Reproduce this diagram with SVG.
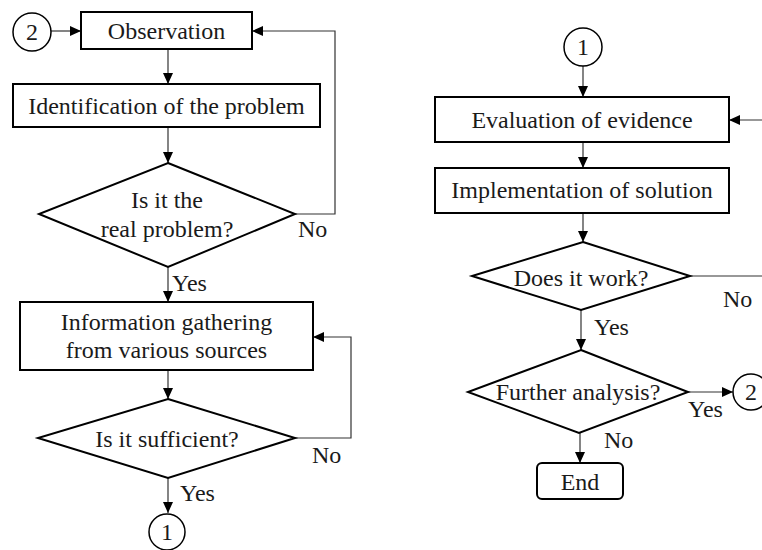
<svg xmlns="http://www.w3.org/2000/svg" width="762" height="550" viewBox="0 0 762 550">
<defs>
<marker id="arr" markerUnits="userSpaceOnUse" markerWidth="12" markerHeight="10" refX="11" refY="5" orient="auto">
<path d="M0,0 L11,5 L0,10 z" fill="#000"/>
</marker>
<style>
.box{fill:#fff;stroke:#000;stroke-width:2}
.conn{fill:none;stroke:#333;stroke-width:1.2}
.circ{fill:#fff;stroke:#000;stroke-width:1.5}
</style>
</defs>
<rect width="762" height="550" fill="#fff"/>
<g font-family="Liberation Serif, Times New Roman, serif" font-size="24" fill="#1a1a1a">
<g id="connectors">
<line class="conn" x1="51" y1="31" x2="81" y2="31" marker-end="url(#arr)"/>
<line class="conn" x1="168" y1="49" x2="168" y2="84" marker-end="url(#arr)"/>
<line class="conn" x1="168" y1="127" x2="168" y2="163" marker-end="url(#arr)"/>
<polyline class="conn" points="295,214 335,214 335,31 252,31" marker-end="url(#arr)"/>
<line class="conn" x1="168" y1="267" x2="168" y2="302" marker-end="url(#arr)"/>
<line class="conn" x1="168" y1="370" x2="168" y2="399" marker-end="url(#arr)"/>
<polyline class="conn" points="295,438 351,438 351,337 313,337" marker-end="url(#arr)"/>
<line class="conn" x1="168" y1="478" x2="168" y2="513" marker-end="url(#arr)"/>
<line class="conn" x1="583" y1="66" x2="583" y2="97" marker-end="url(#arr)"/>
<line class="conn" x1="583" y1="142" x2="583" y2="168" marker-end="url(#arr)"/>
<line class="conn" x1="583" y1="213" x2="583" y2="242" marker-end="url(#arr)"/>
<polyline class="conn" points="690,276 775,276 775,120 729,120" marker-end="url(#arr)"/>
<line class="conn" x1="581" y1="310" x2="581" y2="350" marker-end="url(#arr)"/>
<line class="conn" x1="688" y1="392" x2="733" y2="392" marker-end="url(#arr)"/>
<line class="conn" x1="580" y1="433" x2="580" y2="463" marker-end="url(#arr)"/>
<text x="298" y="237">No</text>
<text x="172" y="291">Yes</text>
<text x="312" y="463">No</text>
<text x="180" y="501">Yes</text>
<text x="723" y="307">No</text>
<text x="594" y="335">Yes</text>
<text x="688" y="417">Yes</text>
<text x="604" y="448">No</text>
</g>
<g text-anchor="middle">
<g id="conn2-top">
<circle class="circ" cx="32" cy="32" r="19"/>
<text x="32" y="40">2</text>
</g>
<g id="observation">
<rect class="box" x="81" y="12" width="171" height="37"/>
<text x="166.5" y="39">Observation</text>
</g>
<g id="identification">
<rect class="box" x="13" y="84" width="307" height="43"/>
<text x="166.5" y="114">Identification of the problem</text>
</g>
<g id="real-problem">
<polygon class="box" points="168,163 295,214 168,267 39,214"/>
<text x="167" y="208">Is it the</text>
<text x="167" y="237">real problem?</text>
</g>
<g id="info-gathering">
<rect class="box" x="20" y="302" width="293" height="68"/>
<text x="166.5" y="330">Information gathering</text>
<text x="166.5" y="358">from various sources</text>
</g>
<g id="sufficient">
<polygon class="box" points="168,399 295,438 168,478 38,438"/>
<text x="167" y="447">Is it sufficient?</text>
</g>
<g id="conn1-bottom">
<circle class="circ" cx="167" cy="532" r="18"/>
<text x="167" y="540">1</text>
</g>
<g id="conn1-top">
<circle class="circ" cx="583" cy="47" r="19"/>
<text x="583" y="55">1</text>
</g>
<g id="evaluation">
<rect class="box" x="435" y="97" width="294" height="45"/>
<text x="582" y="128">Evaluation of evidence</text>
</g>
<g id="implementation">
<rect class="box" x="435" y="168" width="294" height="45"/>
<text x="582" y="198">Implementation of solution</text>
</g>
<g id="does-it-work">
<polygon class="box" points="583,242 690,276 581,310 472,276"/>
<text x="581" y="286">Does it work?</text>
</g>
<g id="further-analysis">
<polygon class="box" points="581,350 688,392 579,433 468,392"/>
<text x="578" y="400">Further analysis?</text>
</g>
<g id="conn2-right">
<circle class="circ" cx="751" cy="392" r="18"/>
<text x="751" y="400">2</text>
</g>
<g id="end">
<rect class="box" x="537" y="463" width="86" height="36" rx="5"/>
<text x="580" y="490">End</text>
</g>
</g>
</g>
</svg>
